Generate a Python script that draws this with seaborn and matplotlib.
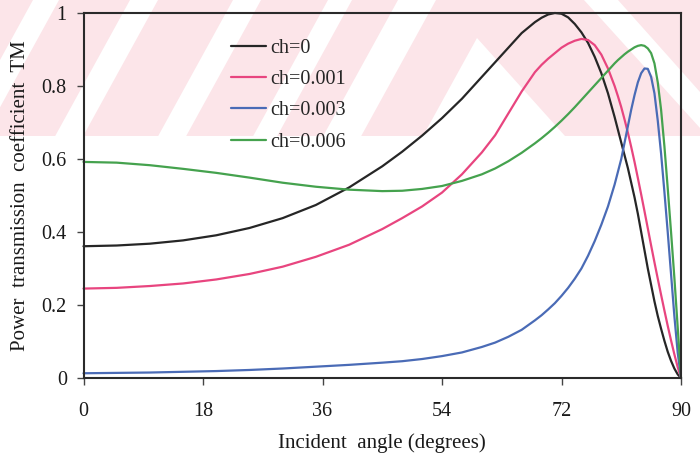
import matplotlib
matplotlib.use("Agg")
import matplotlib.pyplot as plt
from matplotlib.patches import Polygon, Rectangle
import pandas as pd
import seaborn as sns

# Incident angle grid (degrees)
angles = [0, 5, 10, 15, 20, 25, 30, 35, 40, 45, 48, 51, 54, 57, 60, 62, 64, 66,
          68, 69, 70, 71, 72, 73, 74, 75, 76, 77, 78, 79, 80, 80.5, 81, 81.5,
          82, 82.5, 83, 83.5, 84, 84.5, 85, 85.5, 86, 86.5, 87, 87.5, 88, 88.5,
          89, 89.5, 90]

# Power transmission coefficient (TM) for each chirp value
tm_ch0 = [0.361, 0.363, 0.368, 0.377, 0.391, 0.411, 0.438, 0.474, 0.522, 0.580,
          0.620, 0.664, 0.712, 0.765, 0.825, 0.865, 0.905, 0.945, 0.975, 0.987,
          0.996, 1.000, 0.998, 0.988, 0.970, 0.947, 0.918, 0.880, 0.835, 0.780,
          0.715, 0.680, 0.645, 0.610, 0.575, 0.535, 0.495, 0.450, 0.400, 0.350,
          0.300, 0.255, 0.210, 0.170, 0.135, 0.102, 0.072, 0.047, 0.026, 0.010,
          0.0]
tm_ch0001 = [0.245, 0.247, 0.252, 0.259, 0.270, 0.285, 0.305, 0.332, 0.365, 0.408,
             0.438, 0.470, 0.508, 0.558, 0.618, 0.665, 0.725, 0.785, 0.838, 0.858,
             0.875, 0.890, 0.905, 0.916, 0.924, 0.929, 0.926, 0.912, 0.886, 0.848,
             0.800, 0.772, 0.742, 0.708, 0.672, 0.633, 0.592, 0.548, 0.503, 0.457,
             0.410, 0.363, 0.317, 0.272, 0.228, 0.185, 0.143, 0.103, 0.065, 0.030,
             0.0]
tm_ch0003 = [0.013, 0.014, 0.015, 0.017, 0.019, 0.022, 0.026, 0.031, 0.036, 0.042,
             0.046, 0.052, 0.060, 0.070, 0.085, 0.097, 0.113, 0.132, 0.158, 0.172,
             0.188, 0.205, 0.225, 0.247, 0.272, 0.300, 0.335, 0.375, 0.420, 0.470,
             0.530, 0.565, 0.600, 0.645, 0.690, 0.735, 0.775, 0.810, 0.835, 0.848,
             0.847, 0.825, 0.780, 0.705, 0.615, 0.510, 0.400, 0.285, 0.170, 0.070,
             0.0]
tm_ch0006 = [0.592, 0.590, 0.583, 0.573, 0.562, 0.549, 0.535, 0.524, 0.516, 0.512,
             0.513, 0.518, 0.526, 0.540, 0.558, 0.574, 0.594, 0.617, 0.643, 0.657,
             0.672, 0.688, 0.705, 0.723, 0.742, 0.762, 0.782, 0.802, 0.822, 0.842,
             0.862, 0.871, 0.879, 0.887, 0.894, 0.900, 0.906, 0.910, 0.912, 0.910,
             0.903, 0.890, 0.862, 0.810, 0.735, 0.635, 0.520, 0.400, 0.275, 0.140,
             0.0]

series_labels = ["ch=0", "ch=0.001", "ch=0.003", "ch=0.006"]
line_colors = ["#262626", "#e8457f", "#4a6bb6", "#45a24e"]

x_ticks = [0, 18, 36, 54, 72, 90]
y_ticks = [0, 0.2, 0.4, 0.6, 0.8, 1.0]
y_tick_labels = ["0", "0.2", "0.4", "0.6", "0.8", "1"]

df = pd.DataFrame({
    "angle": angles * 4,
    "tm": tm_ch0 + tm_ch0001 + tm_ch0003 + tm_ch0006,
    "series": [s for s in series_labels for _ in angles],
})

sns.set_style("ticks")
plt.rcParams["font.family"] = ["Liberation Serif", "DejaVu Serif"]

W, H = 700, 462
fig = plt.figure(figsize=(W / 100, H / 100), dpi=100)
fig.patch.set_facecolor("white")


def to_fig(points):
    return [(x / W, 1 - y / H) for x, y in points]


def add_shape(points, color):
    fig.add_artist(Polygon(to_fig(points), closed=True, facecolor=color,
                           edgecolor="none", transform=fig.transFigure,
                           zorder=-2))


# pale pink banner behind the upper part of the figure
band = 136
fig.add_artist(Rectangle((0, 1 - band / H), 1, band / H, facecolor="#fce5e9",
                         edgecolor="none", transform=fig.transFigure, zorder=-3))
slope = 0.55
for x0, w in [(33, 26), (130, 28), (233, 28), (328, 24), (398, 38)]:
    add_shape([(x0, 0), (x0 + w, 0), (x0 + w - slope * band, band),
               (x0 - slope * band, band)], "white")
add_shape([(477, 38), (423, 136), (565, 136)], "white")
add_shape([(584, 0), (618, 0), (700, 92), (700, 128)], "white")

ax = fig.add_axes([83.5 / W, 1 - 378 / H, (681 - 83.5) / W, (378 - 13) / H])
ax.set_facecolor("none")

sns.lineplot(data=df, x="angle", y="tm", hue="series", hue_order=series_labels,
             palette=dict(zip(series_labels, line_colors)), estimator=None,
             sort=False, linewidth=1.6, legend=False, ax=ax, clip_on=False)

ax.set_xlim(0, 90)
ax.set_ylim(0, 1)
ax.set_xticks(x_ticks)
ax.set_xticklabels([str(t) for t in x_ticks])
ax.set_yticks(y_ticks)
ax.set_yticklabels(y_tick_labels)
for side in ["top", "right", "bottom", "left"]:
    ax.spines[side].set_visible(True)
    ax.spines[side].set_color("#2a2a2a")
    ax.spines[side].set_linewidth(1.5)
ax.tick_params(axis="both", direction="out", length=5, width=1,
               color="#444444", labelsize=14.5, labelcolor="#1a1a1a")
ax.tick_params(axis="x", pad=12)
ax.tick_params(axis="y", pad=7)

ax.set_xlabel("Incident  angle (degrees)", fontsize=15, color="#1a1a1a",
              labelpad=9)
ax.set_ylabel("Power  transmission  coefficient  TM", fontsize=15,
              color="#1a1a1a", labelpad=8)

handles = [plt.Line2D([], [], color=c, linewidth=1.6) for c in line_colors]
ax.legend(handles, series_labels, loc="upper left",
          bbox_to_anchor=(231 / W, 1 - 39 / H), bbox_transform=fig.transFigure,
          frameon=False, fontsize=14.5, handlelength=1.75, handletextpad=0.2,
          labelspacing=0.6, borderpad=0, borderaxespad=0)

fig.savefig("out.png", dpi=100)
